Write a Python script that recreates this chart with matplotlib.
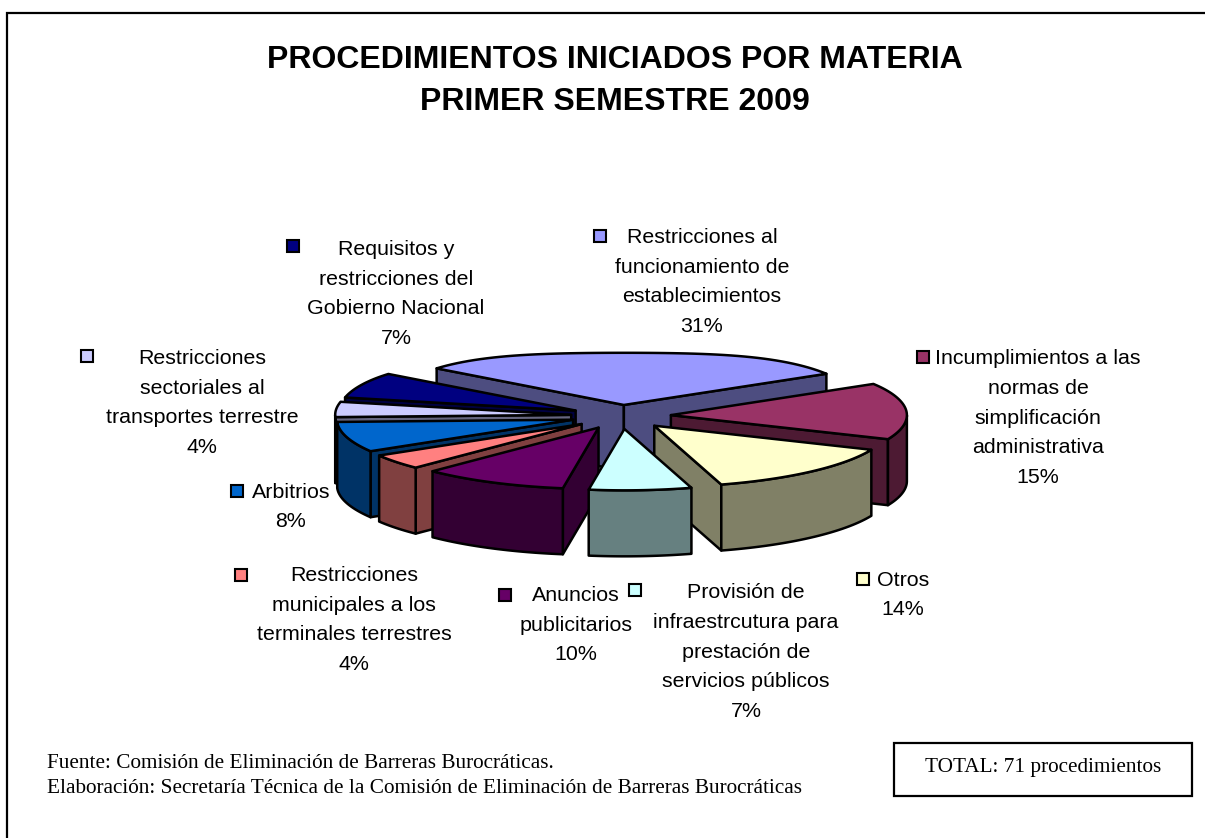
import numpy as np
import matplotlib
matplotlib.use("Agg")
import matplotlib.pyplot as plt
from matplotlib.patches import Polygon, Rectangle

names = ["Restricciones al\nfuncionamiento de\nestablecimientos",
         "Incumplimientos a las\nnormas de\nsimplificación\nadministrativa",
         "Otros",
         "Provisión de\ninfraestrcutura para\nprestación de\nservicios públicos",
         "Anuncios\npublicitarios",
         "Restricciones\nmunicipales a los\nterminales terrestres",
         "Arbitrios",
         "Restricciones\nsectoriales al\ntransportes terrestre",
         "Requisitos y\nrestricciones del\nGobierno Nacional"]
percent = [31, 15, 14, 7, 10, 4, 8, 4, 7]
top_colors = ["#9999FF", "#993366", "#FFFFCC", "#CCFFFF", "#660066",
              "#FF8080", "#0066CC", "#CCCCFF", "#000080"]
side_colors = ["#4D4D80", "#4D1A33", "#808066", "#668080", "#330033",
               "#804040", "#003366", "#666680", "#000040"]

# label text centre, marker position (pixels)
label_pos = [(702, 282), (1038, 418), (903, 595), (746, 652), (576, 625),
             (354, 620), (291, 507), (202, 403), (396, 294)]
mark_pos = [(600, 236), (923, 357), (863, 579), (635, 590), (505, 595),
            (241, 575), (237, 491), (87, 356), (293, 246)]

# pie geometry
cx, cy = 621, 416
R = 236
k = 0.26
explode = 50
depth = 66
start = -52.5

plt.rcParams['font.family'] = ['Liberation Sans', 'DejaVu Sans']

fig = plt.figure(figsize=(12.05, 8.38), dpi=100)
ax = fig.add_axes([0, 0, 1, 1])
ax.set_xlim(0, 1205)
ax.set_ylim(838, 0)
ax.axis("off")

# only the top and left of the frame are inside the picture
ax.add_patch(Rectangle((7, 13), 1300, 900, fc="white", ec="black", lw=1.6))


def pt(a, r, ox, oy):
    # a is clockwise from the top, in degrees
    c = np.cos(np.radians(a))
    # back of the pie is a bit flatter (perspective)
    flat = 1 - 0.15 * np.clip(c, 0, 1) ** 4
    return ox + r * np.sin(np.radians(a)), oy - k * r * c * flat


edges = start + np.cumsum([0] + percent) * 3.6
# back slices first, front ones over them
order = [0, 1, 8, 7, 6, 5, 2, 4, 3]
for i in order:
    a1, a2 = edges[i], edges[i + 1]
    mid = (a1 + a2) / 2
    ox, oy = pt(mid, explode, cx, cy)
    aa = np.linspace(a1, a2, 60)
    xs, ys = pt(aa, R, ox, oy)

    # radial walls, only when they face the viewer
    for a, n in ((a1, a1 - 90), (a2, a2 + 90)):
        if np.cos(np.radians(n)) < 0:
            ex, ey = pt(a, R, ox, oy)
            ax.add_patch(Polygon([(ox, oy), (ex, ey), (ex, ey + depth), (ox, oy + depth)],
                                 fc=side_colors[i], ec="black", lw=1.8, joinstyle="round"))
    # outer wall, front part
    front = np.cos(np.radians(aa)) < 0
    if front.any():
        fx, fy = xs[front], ys[front]
        wall = np.column_stack([np.r_[fx, fx[::-1]], np.r_[fy, fy[::-1] + depth]])
        ax.add_patch(Polygon(wall, fc=side_colors[i], ec="black", lw=1.8, joinstyle="round"))
    # top
    ax.add_patch(Polygon(np.column_stack([np.r_[ox, xs], np.r_[oy, ys]]),
                         fc=top_colors[i], ec="black", lw=1.8, joinstyle="round"))

for i, name in enumerate(names):
    lx, ly = label_pos[i]
    ax.text(lx, ly, f"{name}\n{percent[i]}%", ha="center", va="center", fontsize=15.4,
            linespacing=1.705, color="black")
    mx, my = mark_pos[i]
    ax.add_patch(Rectangle((mx - 6, my - 6), 12, 12, fc=top_colors[i], ec="black", lw=1.5))

ax.text(615, 81, "PROCEDIMIENTOS INICIADOS POR MATERIA\nPRIMER SEMESTRE 2009", ha="center",
        va="center", fontsize=23, fontweight="bold", linespacing=1.5)

ax.text(47, 776, "Fuente: Comisión de Eliminación de Barreras Burocráticas.\n"
        "Elaboración: Secretaría Técnica de la Comisión de Eliminación de Barreras Burocráticas",
        ha="left", va="center", fontsize=15.3, family="Liberation Serif", linespacing=1.38)

ax.add_patch(Rectangle((894, 743), 298, 53, fc="white", ec="black", lw=1.6))
ax.text(1043, 767, "TOTAL: 71 procedimientos", ha="center", va="center", fontsize=15.3,
        family="Liberation Serif")

fig.savefig("out.png", dpi=100)
